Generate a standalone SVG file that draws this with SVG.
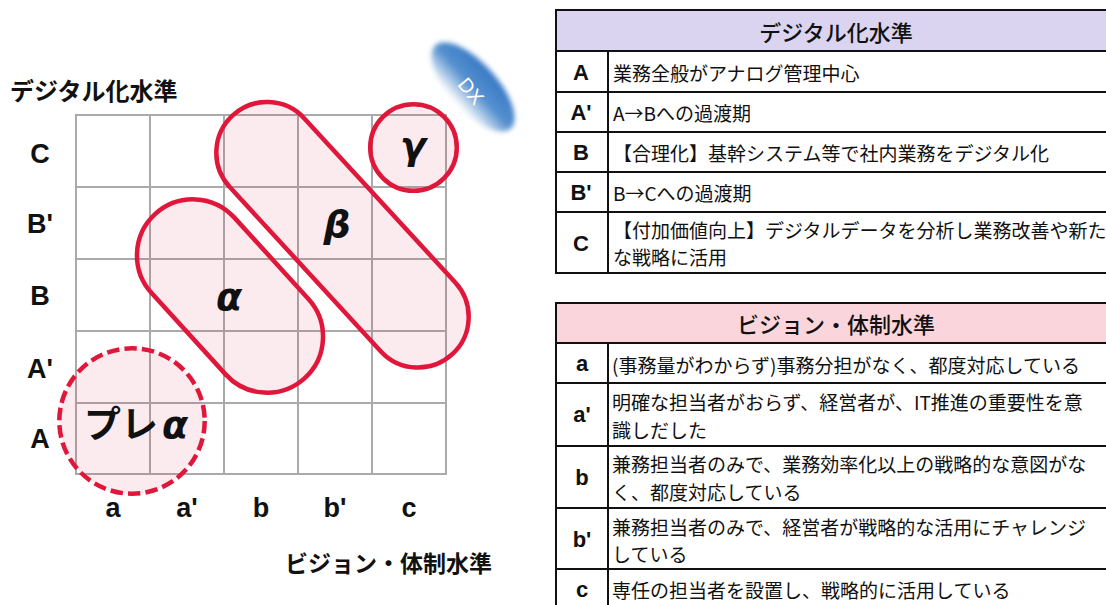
<svg xmlns="http://www.w3.org/2000/svg" width="1106" height="605" viewBox="0 0 1106 605">
<defs>
<style>
.jp{font-family:"Noto Sans CJK JP","Noto Sans CJK SC",sans-serif;fill:#111}
.ttl{font-weight:700;font-size:24px}
.lbl{font-family:"Liberation Sans",Arial,sans-serif;font-weight:700;font-size:27px;fill:#111;text-anchor:middle}
.grk{font-family:"DejaVu Sans",sans-serif;font-weight:700;font-style:oblique;font-size:38px;fill:#111;text-anchor:middle}
.grid{fill:none;stroke:#aaaaaa;stroke-width:2}
.zone{fill:#e0173a;fill-opacity:0.085;stroke:#e0173a;stroke-width:4.5}
.dash{stroke-dasharray:12.5 5.1}
.tb{fill:none;stroke:#111;stroke-width:2}
.hd{font-weight:500;font-size:22px;text-anchor:middle}
.body{font-size:19px}
.tl{font-family:"Liberation Sans",Arial,sans-serif;font-weight:700;font-size:22px;fill:#111;text-anchor:middle}
</style>
<linearGradient id="dxg" x1="0" y1="0" x2="0" y2="1">
<stop offset="0" stop-color="#3778c4"/>
<stop offset="0.5" stop-color="#5590cf"/>
<stop offset="1" stop-color="#ffffff"/>
</linearGradient>
<filter id="blur" x="-30%" y="-30%" width="160%" height="160%">
<feGaussianBlur stdDeviation="2.5"/>
</filter>
</defs>
<rect width="1106" height="605" fill="#ffffff"/>

<g id="axis-titles">
<text class="jp ttl" x="10" y="89" dominant-baseline="central">デジタル化水準</text>
<text class="jp ttl" x="285" y="562" dominant-baseline="central" style="font-size:23px">ビジョン・体制水準</text>
</g>

<g id="grid">
<path class="grid" d="M76 115H446V474H76Z M150 115V474 M224 115V474 M298 115V474 M372 115V474 M76 187H446 M76 259H446 M76 331H446 M76 403H446"/>
</g>

<g id="row-labels">
<text class="lbl" x="40" y="163">C</text>
<text class="lbl" x="40" y="233">B'</text>
<text class="lbl" x="40" y="305">B</text>
<text class="lbl" x="40" y="378">A'</text>
<text class="lbl" x="40" y="448">A</text>
</g>
<g id="col-labels">
<text class="lbl" x="113" y="517">a</text>
<text class="lbl" x="187" y="517">a'</text>
<text class="lbl" x="261" y="517">b</text>
<text class="lbl" x="335" y="517">b'</text>
<text class="lbl" x="409" y="517">c</text>
</g>

<g id="connectors"></g>

<g id="node-pre-alpha">
<circle class="zone dash" cx="132" cy="421" r="72.7"/>
<text x="136" y="438" text-anchor="middle"><tspan class="jp" style="font-weight:700;font-size:37px">プレ</tspan><tspan class="grk" dx="4">α</tspan></text>
</g>

<g id="node-alpha">
<rect class="zone" x="-111" y="-56" width="222" height="112" rx="56" transform="translate(230 296) rotate(47.7)"/>
<text class="grk" x="229" y="310">α</text>
</g>

<g id="node-beta">
<rect class="zone" x="-162.2" y="-50.7" width="324.4" height="101.4" rx="50.7" transform="translate(342.5 234.8) rotate(47.4)"/>
<text class="grk" x="337" y="237">β</text>
</g>

<g id="node-gamma">
<circle class="zone" cx="413.5" cy="147.5" r="43.3"/>
<text class="grk" x="413" y="159">γ</text>
</g>

<g id="node-dx">
<ellipse cx="0" cy="0" rx="56" ry="24" fill="url(#dxg)" filter="url(#blur)" transform="translate(473 87) rotate(48)"/>
<text x="0" y="7" text-anchor="middle" transform="translate(471 91) rotate(50)" style="font-family:'Liberation Sans',Arial,sans-serif;font-size:20px;fill:#ffffff">DX</text>
</g>

<g id="table-digital">
<rect x="556" y="10" width="570" height="41" fill="#dad4f1"/>
<path class="tb" d="M1130 10H556V273H1130 M556 51H1130 M556 92H1130 M556 132H1130 M556 172H1130 M556 212H1130 M608 51V273"/>
<text class="jp hd" x="836" y="31" dominant-baseline="central">デジタル化水準</text>
<text class="tl" x="581" y="80">A</text>
<text class="tl" x="581" y="120">A'</text>
<text class="tl" x="581" y="160">B</text>
<text class="tl" x="581" y="200">B'</text>
<text class="tl" x="581" y="251">C</text>
<text class="jp body" x="613" y="72" dominant-baseline="central">業務全般がアナログ管理中心</text>
<text class="jp body" x="613" y="112" dominant-baseline="central">A→Bへの過渡期</text>
<text class="jp body" x="613" y="152" dominant-baseline="central">【合理化】基幹システム等で社内業務をデジタル化</text>
<text class="jp body" x="613" y="192" dominant-baseline="central">B→Cへの過渡期</text>
<text class="jp body" x="613" y="229" dominant-baseline="central">【付加価値向上】デジタルデータを分析し業務改善や新た</text>
<text class="jp body" x="613" y="256" dominant-baseline="central">な戦略に活用</text>
</g>

<g id="table-vision">
<rect x="556" y="303" width="570" height="40" fill="#fbd5dc"/>
<path class="tb" d="M1130 303H556V610 M556 343H1130 M556 383H1130 M556 446H1130 M556 508H1130 M556 569H1130 M608 343V610"/>
<text class="jp hd" x="836" y="323" dominant-baseline="central">ビジョン・体制水準</text>
<text class="tl" x="582" y="371">a</text>
<text class="tl" x="582" y="422">a'</text>
<text class="tl" x="582" y="485">b</text>
<text class="tl" x="582" y="547">b'</text>
<text class="tl" x="582" y="597">c</text>
<text class="jp body" x="612" y="364" dominant-baseline="central">(事務量がわからず)事務分担がなく、都度対応している</text>
<text class="jp body" x="612" y="401" dominant-baseline="central">明確な担当者がおらず、経営者が、IT推進の重要性を意</text>
<text class="jp body" x="612" y="429" dominant-baseline="central">識しだした</text>
<text class="jp body" x="612" y="463" dominant-baseline="central">兼務担当者のみで、業務効率化以上の戦略的な意図がな</text>
<text class="jp body" x="612" y="491" dominant-baseline="central">く、都度対応している</text>
<text class="jp body" x="612" y="526" dominant-baseline="central">兼務担当者のみで、経営者が戦略的な活用にチャレンジ</text>
<text class="jp body" x="612" y="553" dominant-baseline="central">している</text>
<text class="jp body" x="612" y="589" dominant-baseline="central">専任の担当者を設置し、戦略的に活用している</text>
</g>
</svg>
